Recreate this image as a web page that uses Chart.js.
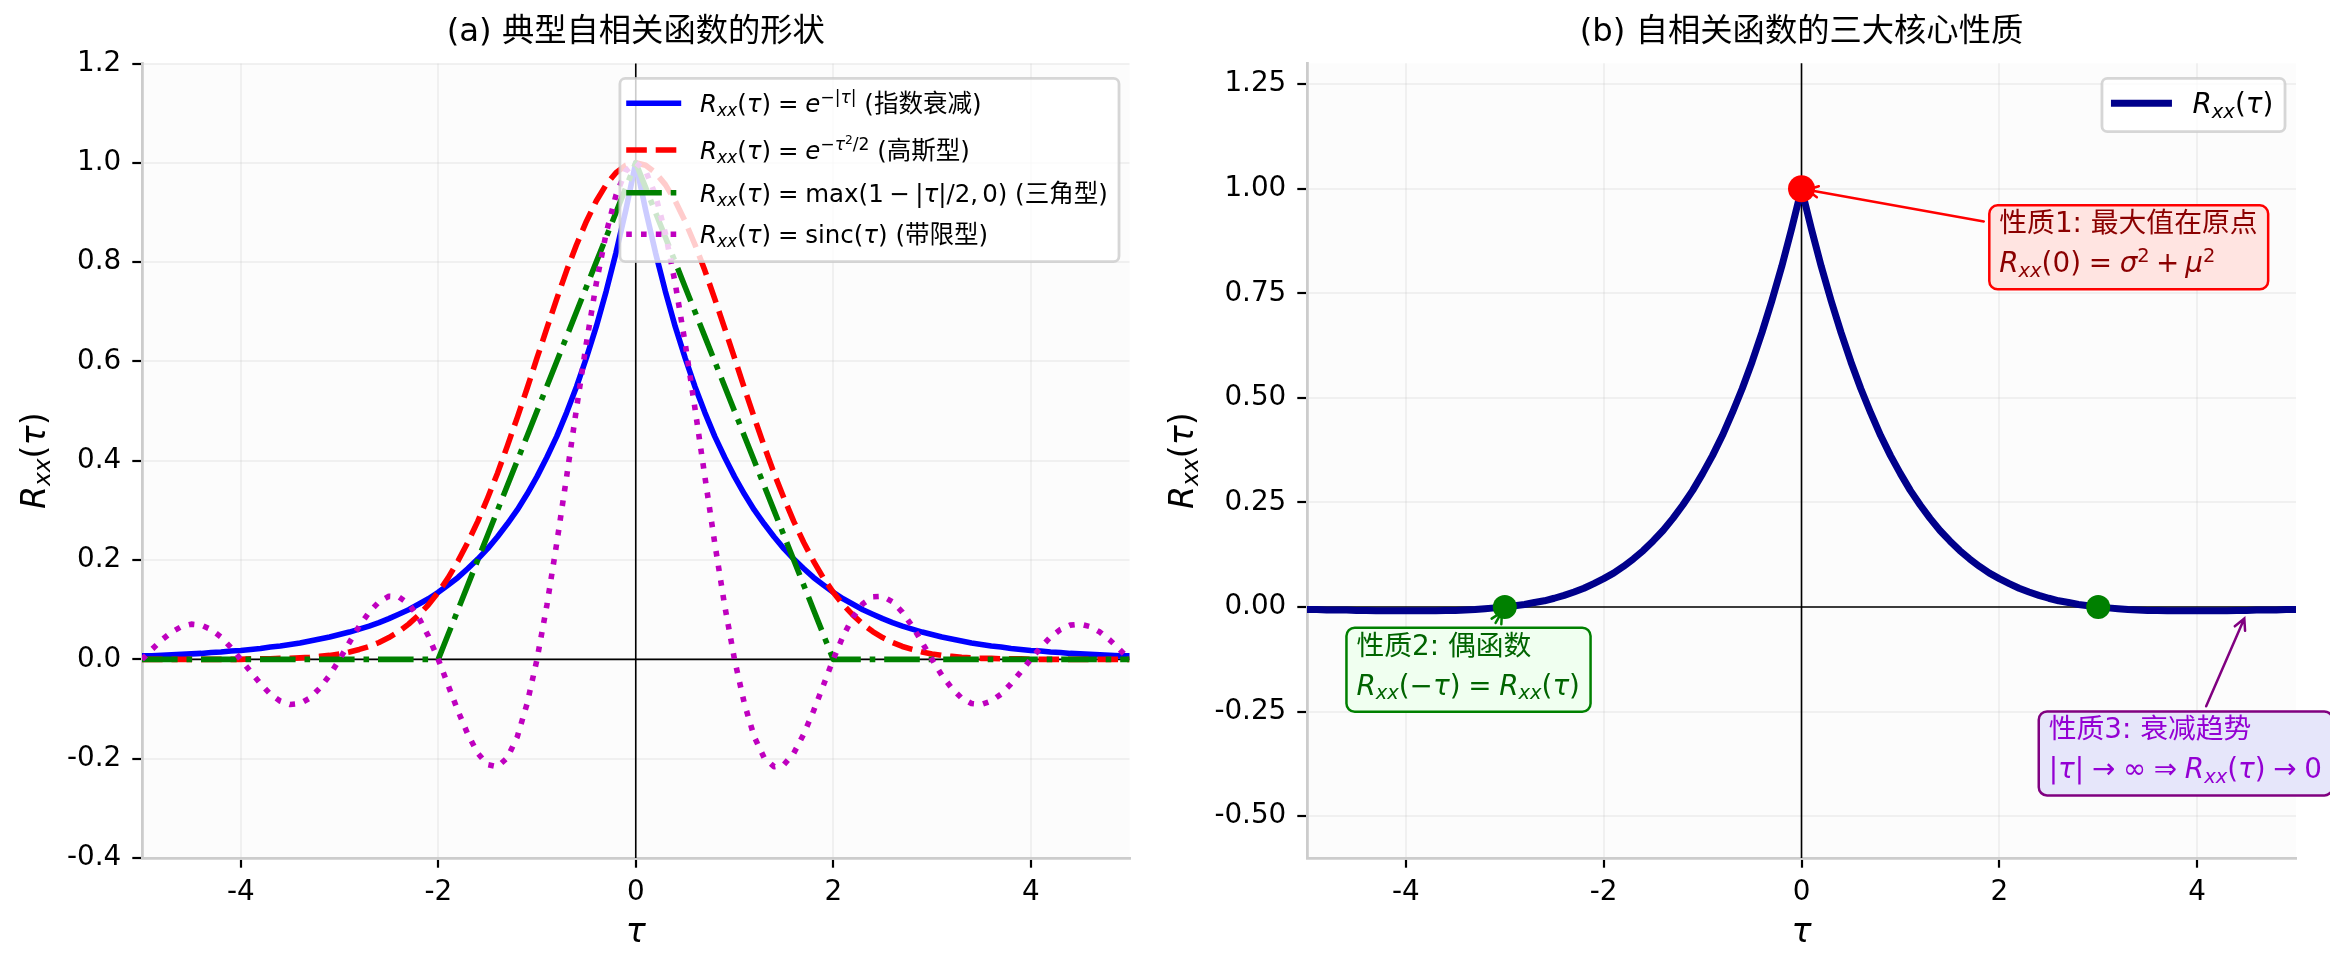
<!DOCTYPE html>
<html>
<head>
<meta charset="utf-8">
<title>自相关函数</title>
<script src="https://cdn.jsdelivr.net/npm/chart.js@4.4.1/dist/chart.umd.min.js"></script>
<style>
  body { margin: 0; background: #ffffff; }
  #page { position: relative; width: 2330px; height: 970px; }
  .panel { position: absolute; top: 0; width: 1165px; height: 970px; }
</style>
</head>
<body>
<div id="page">
  <div class="panel" style="left:0px"><canvas id="leftChart" width="1165" height="970"></canvas></div>
  <div class="panel" style="left:1165px"><canvas id="rightChart" width="1165" height="970"></canvas></div>
</div>
<script>
// ---- data ------------------------------------------------------------------------
const tau = [
  -5.0, -4.9, -4.8, -4.7, -4.6, -4.5, -4.4, -4.3, -4.2, -4.1,
  -4.0, -3.9, -3.8, -3.7, -3.6, -3.5, -3.4, -3.3, -3.2, -3.1,
  -3.0, -2.9, -2.8, -2.7, -2.6, -2.5, -2.4, -2.3, -2.2, -2.1,
  -2.0, -1.9, -1.8, -1.7, -1.6, -1.5, -1.4, -1.3, -1.2, -1.1,
  -1.0, -0.9, -0.8, -0.7, -0.6, -0.5, -0.4, -0.3, -0.2, -0.1,
  0.0,
  0.1, 0.2, 0.3, 0.4, 0.5, 0.6, 0.7, 0.8, 0.9, 1.0,
  1.1, 1.2, 1.3, 1.4, 1.5, 1.6, 1.7, 1.8, 1.9, 2.0,
  2.1, 2.2, 2.3, 2.4, 2.5, 2.6, 2.7, 2.8, 2.9, 3.0,
  3.1, 3.2, 3.3, 3.4, 3.5, 3.6, 3.7, 3.8, 3.9, 4.0,
  4.1, 4.2, 4.3, 4.4, 4.5, 4.6, 4.7, 4.8, 4.9, 5.0
];

// panel (a)
const expDecay = [
  0.007, 0.007, 0.008, 0.009, 0.010, 0.011, 0.012, 0.014, 0.015, 0.017,
  0.018, 0.020, 0.022, 0.025, 0.027, 0.030, 0.033, 0.037, 0.041, 0.045,
  0.050, 0.055, 0.061, 0.067, 0.074, 0.082, 0.091, 0.100, 0.111, 0.122,
  0.135, 0.150, 0.165, 0.183, 0.202, 0.223, 0.247, 0.273, 0.301, 0.333,
  0.368, 0.407, 0.449, 0.497, 0.549, 0.607, 0.670, 0.741, 0.819, 0.905,
  1.000,
  0.905, 0.819, 0.741, 0.670, 0.607, 0.549, 0.497, 0.449, 0.407, 0.368,
  0.333, 0.301, 0.273, 0.247, 0.223, 0.202, 0.183, 0.165, 0.150, 0.135,
  0.122, 0.111, 0.100, 0.091, 0.082, 0.074, 0.067, 0.061, 0.055, 0.050,
  0.045, 0.041, 0.037, 0.033, 0.030, 0.027, 0.025, 0.022, 0.020, 0.018,
  0.017, 0.015, 0.014, 0.012, 0.011, 0.010, 0.009, 0.008, 0.007, 0.007
];
const gaussian = [
  0.000, 0.000, 0.000, 0.000, 0.000, 0.000, 0.000, 0.000, 0.000, 0.000,
  0.000, 0.001, 0.001, 0.001, 0.002, 0.002, 0.003, 0.004, 0.006, 0.008,
  0.011, 0.015, 0.020, 0.026, 0.034, 0.044, 0.056, 0.071, 0.089, 0.110,
  0.135, 0.164, 0.198, 0.236, 0.278, 0.325, 0.375, 0.430, 0.487, 0.546,
  0.607, 0.667, 0.726, 0.783, 0.835, 0.882, 0.923, 0.956, 0.980, 0.995,
  1.000,
  0.995, 0.980, 0.956, 0.923, 0.882, 0.835, 0.783, 0.726, 0.667, 0.607,
  0.546, 0.487, 0.430, 0.375, 0.325, 0.278, 0.236, 0.198, 0.164, 0.135,
  0.110, 0.089, 0.071, 0.056, 0.044, 0.034, 0.026, 0.020, 0.015, 0.011,
  0.008, 0.006, 0.004, 0.003, 0.002, 0.002, 0.001, 0.001, 0.001, 0.000,
  0.000, 0.000, 0.000, 0.000, 0.000, 0.000, 0.000, 0.000, 0.000, 0.000
];
const triangle = [
  0.00, 0.00, 0.00, 0.00, 0.00, 0.00, 0.00, 0.00, 0.00, 0.00,
  0.00, 0.00, 0.00, 0.00, 0.00, 0.00, 0.00, 0.00, 0.00, 0.00,
  0.00, 0.00, 0.00, 0.00, 0.00, 0.00, 0.00, 0.00, 0.00, 0.00,
  0.00, 0.05, 0.10, 0.15, 0.20, 0.25, 0.30, 0.35, 0.40, 0.45,
  0.50, 0.55, 0.60, 0.65, 0.70, 0.75, 0.80, 0.85, 0.90, 0.95,
  1.00,
  0.95, 0.90, 0.85, 0.80, 0.75, 0.70, 0.65, 0.60, 0.55, 0.50,
  0.45, 0.40, 0.35, 0.30, 0.25, 0.20, 0.15, 0.10, 0.05, 0.00,
  0.00, 0.00, 0.00, 0.00, 0.00, 0.00, 0.00, 0.00, 0.00, 0.00,
  0.00, 0.00, 0.00, 0.00, 0.00, 0.00, 0.00, 0.00, 0.00, 0.00,
  0.00, 0.00, 0.00, 0.00, 0.00, 0.00, 0.00, 0.00, 0.00, 0.00
];
const sincVals = [
  0.000, 0.020, 0.039, 0.055, 0.066, 0.071, 0.069, 0.060, 0.045, 0.024,
  0.000, -0.025, -0.049, -0.070, -0.084, -0.091, -0.089, -0.078, -0.058, -0.032,
  0.000, 0.034, 0.067, 0.095, 0.116, 0.127, 0.126, 0.112, 0.085, 0.047,
  0.000, -0.052, -0.104, -0.151, -0.189, -0.212, -0.216, -0.198, -0.156, -0.089,
  0.000, 0.109, 0.234, 0.368, 0.505, 0.637, 0.757, 0.858, 0.935, 0.984,
  1.000,
  0.984, 0.935, 0.858, 0.757, 0.637, 0.505, 0.368, 0.234, 0.109, 0.000,
  -0.089, -0.156, -0.198, -0.216, -0.212, -0.189, -0.151, -0.104, -0.052, 0.000,
  0.047, 0.085, 0.112, 0.126, 0.127, 0.116, 0.095, 0.067, 0.034, 0.000,
  -0.032, -0.058, -0.078, -0.089, -0.091, -0.084, -0.070, -0.049, -0.025, 0.000,
  0.024, 0.045, 0.060, 0.069, 0.071, 0.066, 0.055, 0.039, 0.020, 0.000
];

// panel (b)
const rxxCurve = [
  -0.006, -0.006, -0.007, -0.007, -0.007, -0.008, -0.008, -0.009, -0.009, -0.009,
  -0.009, -0.009, -0.009, -0.009, -0.008, -0.008, -0.007, -0.006, -0.004, -0.002,
  0.000, 0.003, 0.006, 0.011, 0.015, 0.021, 0.028, 0.036, 0.045, 0.056,
  0.068, 0.081, 0.097, 0.115, 0.135, 0.158, 0.183, 0.212, 0.244, 0.279,
  0.319, 0.362, 0.410, 0.464, 0.522, 0.586, 0.656, 0.732, 0.814, 0.904,
  1.000,
  0.904, 0.814, 0.732, 0.656, 0.586, 0.522, 0.464, 0.410, 0.362, 0.319,
  0.279, 0.244, 0.212, 0.183, 0.158, 0.135, 0.115, 0.097, 0.081, 0.068,
  0.056, 0.045, 0.036, 0.028, 0.021, 0.015, 0.011, 0.006, 0.003, 0.000,
  -0.002, -0.004, -0.006, -0.007, -0.008, -0.008, -0.009, -0.009, -0.009, -0.009,
  -0.009, -0.009, -0.009, -0.008, -0.008, -0.007, -0.007, -0.007, -0.006, -0.006
];
const peakTau = [0];
const peakVal = [1.0];
const evenTau = [-3, 3];
const evenVal = [0.0, 0.0];

// ticks
const xTicks = [-4, -2, 0, 2, 4];
const leftYTicks = [-0.4, -0.2, 0.0, 0.2, 0.4, 0.6, 0.8, 1.0, 1.2];
const rightYTicks = [-0.5, -0.25, 0.0, 0.25, 0.5, 0.75, 1.0, 1.25];

const seriesNames = ['指数衰减', '高斯型', '三角型', '带限型'];

// ---- text helpers -----------------------------------------------------------------
const FONT = '"DejaVu Sans", "Noto Sans CJK SC", sans-serif';
const GRID = 'rgba(176,176,176,0.15)';
const SHIFT = { b: [0.7, 0.16], p: [0.7, -0.38], pp: [0.5, -0.6] };

function fnt(size, it) {
  return (it ? 'italic ' : '') + size.toFixed(2) + 'px ' + FONT;
}
function segW(ctx, sg, size) {
  if (sg.g) return sg.g * size;
  const m = SHIFT[sg.s] || [1, 0];
  ctx.font = fnt(size * m[0], sg.i);
  return ctx.measureText(sg.t).width;
}
function richWidth(ctx, segs, size) {
  let w = 0;
  segs.forEach(sg => { w += segW(ctx, sg, size); });
  return w;
}
function drawRich(ctx, segs, x, y, size, color) {
  ctx.save();
  ctx.fillStyle = color;
  ctx.textAlign = 'left';
  ctx.textBaseline = 'alphabetic';
  segs.forEach(sg => {
    const w = segW(ctx, sg, size);
    if (!sg.g) {
      const m = SHIFT[sg.s] || [1, 0];
      ctx.fillText(sg.t, x, y + m[1] * size);
    }
    x += w;
  });
  ctx.restore();
}
function rrect(ctx, x, y, w, h, r) {
  ctx.beginPath();
  ctx.moveTo(x + r, y);
  ctx.lineTo(x + w - r, y);
  ctx.arcTo(x + w, y, x + w, y + r, r);
  ctx.lineTo(x + w, y + h - r);
  ctx.arcTo(x + w, y + h, x + w - r, y + h, r);
  ctx.lineTo(x + r, y + h);
  ctx.arcTo(x, y + h, x, y + h - r, r);
  ctx.lineTo(x, y + r);
  ctx.arcTo(x, y, x + r, y, r);
  ctx.closePath();
}

// math spacing, roughly like mathtext
const REL = { g: 0.2778 }, BIN = { g: 0.2222 }, THIN = { g: 0.1667 };
const rel = s => [REL, { t: s }, REL];
const bin = s => [BIN, { t: s }, BIN];

// R_xx(arg)
function rxx(arg) {
  return [{ t: 'R', i: 1 }, { t: 'xx', i: 1, s: 'b' }, { t: '(' }].concat(arg, [{ t: ')' }]);
}
const TAU = [{ t: 'τ', i: 1 }];

const legendLabels = [
  rxx(TAU).concat(rel('='), [{ t: 'e', i: 1 }, { t: '−|', s: 'p' }, { t: 'τ', i: 1, s: 'p' }, { t: '|', s: 'p' }, { t: ' (' + seriesNames[0] + ')' }]),
  rxx(TAU).concat(rel('='), [{ t: 'e', i: 1 }, { t: '−', s: 'p' }, { t: 'τ', i: 1, s: 'p' }, { t: '2', s: 'pp' }, { t: '/2', s: 'p' }, { t: ' (' + seriesNames[1] + ')' }]),
  rxx(TAU).concat(rel('='), [{ t: 'max(1' }], bin('−'), [{ t: '|' }, { t: 'τ', i: 1 }, { t: '|/2,' }, THIN, { t: '0)' }, { t: ' (' + seriesNames[2] + ')' }]),
  rxx(TAU).concat(rel('='), [{ t: 'sinc(' }, { t: 'τ', i: 1 }, { t: ')' }, { t: ' (' + seriesNames[3] + ')' }])
];

const styleA = [
  { color: '#0000ff', dash: [] },
  { color: '#ff0000', dash: [20.6, 8.9] },
  { color: '#008000', dash: [35.6, 8.9, 5.6, 8.9] },
  { color: '#bf00bf', dash: [5.6, 9.2] }
];

const annotations = [
  {
    lines: [[{ t: '性质1: 最大值在原点' }],
            rxx([{ t: '0' }]).concat(rel('='), [{ t: 'σ', i: 1 }, { t: '2', s: 'p' }], bin('+'), [{ t: 'μ', i: 1 }, { t: '2', s: 'p' }])],
    at: [2.0, 0.86], target: [0, 1.0],
    text: '#8b0000', edge: '#ff0000', face: '#ffe4e1', arrow: '#ff0000'
  },
  {
    lines: [[{ t: '性质2: 偶函数' }],
            rxx([{ t: '−' }, { t: 'τ', i: 1 }]).concat(rel('='), rxx(TAU))],
    at: [-4.5, -0.15], target: [-3, 0.0],
    text: '#006400', edge: '#008000', face: '#f0fff0', arrow: '#008000'
  },
  {
    lines: [[{ t: '性质3: 衰减趋势' }],
            [{ t: '|' }, { t: 'τ', i: 1 }, { t: '|' }].concat(rel('→'), [{ t: '∞' }], rel('⇒'), rxx(TAU), rel('→'), [{ t: '0' }])],
    at: [2.5, -0.35], target: [4.5, -0.015],
    text: '#9400d3', edge: '#800080', face: '#e6e6fa', arrow: '#800080'
  }
];

// ---- shared chart pieces ----------------------------------------------------------
const toPts = (xs, ys) => xs.map((t, i) => ({ x: t, y: ys[i] }));

function makeScales(yTicks, yMin, yMax, digits) {
  const tickFont = { family: FONT, size: 27.8 };
  return {
    x: {
      type: 'linear', min: -5, max: 5,
      afterBuildTicks: s => { s.ticks = xTicks.map(v => ({ value: v })); },
      afterFit: s => { s.height = 112; },
      ticks: { callback: v => String(v), font: tickFont, color: '#000', padding: 8, maxRotation: 0, autoSkip: false },
      grid: { color: GRID, lineWidth: 2, tickLength: 9.7, tickColor: '#000', tickWidth: 2.2 },
      border: { color: '#cccccc', width: 2.8 }
    },
    y: {
      type: 'linear', min: yMin, max: yMax,
      afterBuildTicks: s => { s.ticks = yTicks.map(v => ({ value: v })); },
      afterFit: s => { s.width = 142; },
      ticks: { callback: v => v.toFixed(digits), font: tickFont, color: '#000', padding: 11, autoSkip: false },
      grid: { color: GRID, lineWidth: 2, tickLength: 9.7, tickColor: '#000', tickWidth: 2.2 },
      border: { color: '#cccccc', width: 2.8 }
    }
  };
}

function drawFrameBits(chart) {
  const { ctx, chartArea: a } = chart;
  ctx.save();
  ctx.fillStyle = '#fcfcfc';
  ctx.fillRect(a.left, a.top, a.right - a.left, a.bottom - a.top);
  ctx.restore();
}
function drawZeroLines(chart) {
  const { ctx, chartArea: a, scales } = chart;
  const x0 = scales.x.getPixelForValue(0);
  const y0 = scales.y.getPixelForValue(0);
  ctx.save();
  ctx.strokeStyle = '#000';
  ctx.lineWidth = 1.6;
  ctx.beginPath();
  ctx.moveTo(a.left, y0); ctx.lineTo(a.right, y0);
  ctx.moveTo(x0, a.top); ctx.lineTo(x0, a.bottom);
  ctx.stroke();
  ctx.restore();
}
function drawLabels(chart, title, ylabelX) {
  const { ctx, chartArea: a } = chart;
  const cx = (a.left + a.right) / 2;
  ctx.save();
  ctx.fillStyle = '#000';
  ctx.font = fnt(32.3, false);
  ctx.textAlign = 'center';
  ctx.textBaseline = 'middle';
  ctx.fillText(title, cx, 33);
  ctx.restore();
  // x label
  const xl = [{ t: 'τ', i: 1 }];
  const w = richWidth(ctx, xl, 33.3);
  drawRich(ctx, xl, cx - w / 2, 942, 33.3, '#000');
  // y label (rotated)
  const yl = rxx(TAU);
  const wy = richWidth(ctx, yl, 33.3);
  ctx.save();
  ctx.translate(ylabelX, (a.top + a.bottom) / 2);
  ctx.rotate(-Math.PI / 2);
  drawRich(ctx, yl, -wy / 2, 0, 33.3, '#000');
  ctx.restore();
}

// ---- panel (a) -----------------------------------------------------------------------
const leftPlugin = {
  id: 'leftDecor',
  beforeDraw: chart => drawFrameBits(chart),
  beforeDatasetsDraw: chart => drawZeroLines(chart),
  afterDatasetsDraw: chart => {
    const { ctx, chartArea: a } = chart;
    const size = 24.5;
    const rows = [25, 71.7, 114.4, 156];
    let tw = 0;
    legendLabels.forEach(l => { tw = Math.max(tw, richWidth(ctx, l, size)); });
    const w = 80 + tw + 11.3, h = 183.4;
    const bx = a.right - 10.5 - w, by = a.top + 14.8;
    ctx.save();
    rrect(ctx, bx, by, w, h, 5.5);
    ctx.fillStyle = 'rgba(255,255,255,0.8)';
    ctx.fill();
    ctx.strokeStyle = 'rgba(204,204,204,0.8)';
    ctx.lineWidth = 2.8;
    ctx.stroke();
    legendLabels.forEach((l, i) => {
      const ry = by + rows[i];
      ctx.save();
      ctx.strokeStyle = styleA[i].color;
      ctx.lineWidth = 5.6;
      ctx.lineCap = 'butt';
      ctx.setLineDash(styleA[i].dash);
      ctx.beginPath();
      ctx.moveTo(bx + 6.3, ry); ctx.lineTo(bx + 61.3, ry);
      ctx.stroke();
      ctx.restore();
      drawRich(ctx, l, bx + 80, ry + 0.37 * size, size, '#000');
    });
    ctx.restore();
  },
  afterDraw: chart => drawLabels(chart, '(a) 典型自相关函数的形状', 45)
};

const leftDatasets = [expDecay, gaussian, triangle, sincVals].map((vals, i) => ({
  label: seriesNames[i],
  data: toPts(tau, vals),
  borderColor: styleA[i].color,
  borderWidth: 5.6,
  borderDash: styleA[i].dash,
  borderCapStyle: styleA[i].dash.length ? 'butt' : 'round',
  borderJoinStyle: 'round',
  pointRadius: 0,
  tension: 0,
  fill: false,
  order: 4 - i
}));

new Chart(document.getElementById('leftChart'), {
  type: 'line',
  data: { datasets: leftDatasets },
  options: {
    responsive: false, animation: false, devicePixelRatio: 1,
    layout: { padding: { left: 0, right: 35.5, top: 63.5, bottom: 0 } },
    plugins: { legend: { display: false }, tooltip: { enabled: false } },
    scales: makeScales(leftYTicks, -0.4, 1.2, 1)
  },
  plugins: [leftPlugin]
});

// ---- panel (b) -----------------------------------------------------------------------
function drawArrow(ctx, from, to, color, box) {
  // clip start against text box, shrink ends like an annotate arrow
  const dx = to[0] - from[0], dy = to[1] - from[1];
  let t = 1;
  if (dx !== 0) t = Math.min(t, Math.abs((dx > 0 ? box.x + box.w - from[0] : box.x - from[0]) / dx));
  if (dy !== 0) t = Math.min(t, Math.abs((dy > 0 ? box.y + box.h - from[1] : box.y - from[1]) / dy));
  const len = Math.hypot(dx, dy);
  const ux = dx / len, uy = dy / len;
  const sx = from[0] + dx * t + ux * 5.6, sy = from[1] + dy * t + uy * 5.6;
  const ex = to[0] - ux * 5.6, ey = to[1] - uy * 5.6;
  ctx.save();
  ctx.strokeStyle = color;
  ctx.lineWidth = 2.5;
  ctx.lineCap = 'round';
  ctx.beginPath();
  ctx.moveTo(sx, sy); ctx.lineTo(ex, ey);
  const hl = 11, hw = 5.6;
  const px = -uy, py = ux;
  ctx.moveTo(ex - ux * hl + px * hw, ey - uy * hl + py * hw);
  ctx.lineTo(ex, ey);
  ctx.lineTo(ex - ux * hl - px * hw, ey - uy * hl - py * hw);
  ctx.stroke();
  ctx.restore();
}

const rightPlugin = {
  id: 'rightDecor',
  beforeDraw: chart => drawFrameBits(chart),
  beforeDatasetsDraw: chart => drawZeroLines(chart),
  afterDatasetsDraw: chart => {
    const { ctx, chartArea: a, scales } = chart;
    // legend
    const size = 27.8;
    const lab = rxx(TAU);
    const tw = richWidth(ctx, lab, size);
    const w = 90.6 + tw + 11.7, h = 53.4;
    const bx = a.right - 11 - w, by = a.top + 15;
    ctx.save();
    rrect(ctx, bx, by, w, h, 5.5);
    ctx.fillStyle = 'rgba(255,255,255,0.8)';
    ctx.fill();
    ctx.strokeStyle = 'rgba(204,204,204,0.8)';
    ctx.lineWidth = 2.8;
    ctx.stroke();
    ctx.strokeStyle = '#00008b';
    ctx.lineWidth = 7;
    ctx.beginPath();
    ctx.moveTo(bx + 9, by + 25); ctx.lineTo(bx + 70, by + 25);
    ctx.stroke();
    ctx.restore();
    drawRich(ctx, lab, bx + 90.6, by + 25 + 0.36 * size, size, '#000');

    // annotations
    const fs = 27.8;
    annotations.forEach(an => {
      const tx = scales.x.getPixelForValue(an.at[0]);
      const cy = scales.y.getPixelForValue(an.at[1]);
      const tw2 = Math.max(...an.lines.map(l => richWidth(ctx, l, fs)));
      const box = { x: tx - 10, y: cy - 42, w: tw2 + 20.6, h: 84 };
      const target = [scales.x.getPixelForValue(an.target[0]), scales.y.getPixelForValue(an.target[1])];
      drawArrow(ctx, [box.x + box.w / 2, box.y + box.h / 2], target, an.arrow, box);
      ctx.save();
      rrect(ctx, box.x, box.y, box.w, box.h, 8.3);
      ctx.fillStyle = an.face;
      ctx.fill();
      ctx.strokeStyle = an.edge;
      ctx.lineWidth = 2.5;
      ctx.stroke();
      ctx.restore();
      drawRich(ctx, an.lines[0], tx, box.y + 27, fs, an.text);
      drawRich(ctx, an.lines[1], tx, box.y + 67, fs, an.text);
    });
  },
  afterDraw: chart => drawLabels(chart, '(b) 自相关函数的三大核心性质', 28)
};

new Chart(document.getElementById('rightChart'), {
  type: 'line',
  data: {
    datasets: [
      {
        label: 'Rxx',
        data: toPts(tau, rxxCurve),
        borderColor: '#00008b',
        borderWidth: 7,
        borderJoinStyle: 'round',
        pointRadius: 0,
        tension: 0,
        fill: false,
        order: 3
      },
      {
        label: 'peak',
        data: toPts(peakTau, peakVal),
        showLine: false,
        pointRadius: 13.5,
        pointBorderWidth: 0,
        pointBackgroundColor: '#ff0000',
        order: 1
      },
      {
        label: 'even',
        data: toPts(evenTau, evenVal),
        showLine: false,
        pointRadius: 12,
        pointBorderWidth: 0,
        pointBackgroundColor: '#008000',
        order: 2
      }
    ]
  },
  options: {
    responsive: false, animation: false, devicePixelRatio: 1,
    layout: { padding: { left: 0, right: 34, top: 63.3, bottom: 0 } },
    plugins: { legend: { display: false }, tooltip: { enabled: false } },
    scales: makeScales(rightYTicks, -0.6, 1.3, 2)
  },
  plugins: [rightPlugin]
});
</script>
</body>
</html>
